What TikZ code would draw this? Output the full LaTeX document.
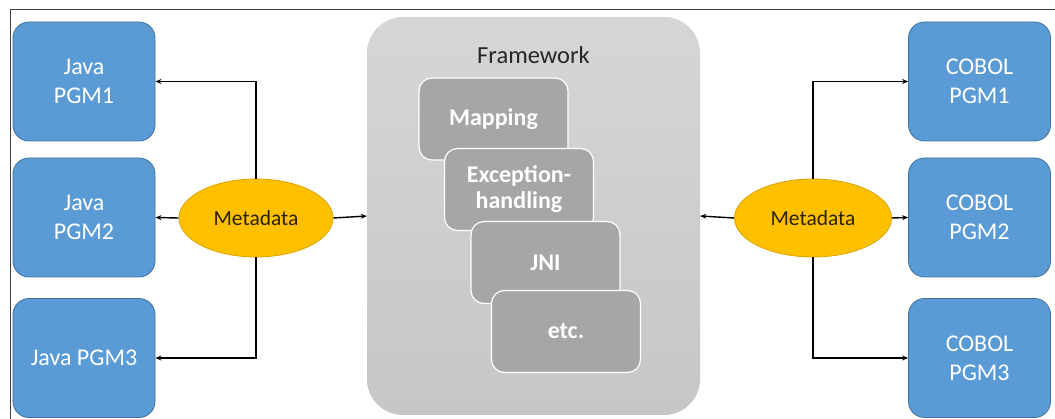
\documentclass[tikz,border=0pt]{standalone}
\usepackage{fontspec}
\setmainfont{Carlito}
\usetikzlibrary{arrows.meta,shapes.geometric}
\definecolor{pgmblue}{HTML}{5B9BD5}
\definecolor{pgmborder}{HTML}{41719C}
\definecolor{metafill}{HTML}{FFC000}
\definecolor{metaborder}{HTML}{D9A300}
\definecolor{fwtop}{HTML}{D6D6D6}
\definecolor{fwbot}{HTML}{C6C6C6}
\definecolor{innerfill}{HTML}{A6A6A6}
\definecolor{metatext}{HTML}{2B2200}
\begin{document}
\begin{tikzpicture}[x=1pt,y=-1pt,
  pgm/.style={rectangle, rounded corners=16pt, fill=pgmblue, draw=pgmborder, line width=0.8pt,
    minimum width=142pt, minimum height=119pt, text=white, align=center,
    font=\fontsize{24}{29}\selectfont},
  meta/.style={ellipse, fill=metafill, draw=metaborder, line width=0.8pt, inner sep=0pt,
    text=metatext, font=\fontsize{21.5}{25}\selectfont},
  fwbox/.style={rectangle, rounded corners=36pt, top color=fwtop, bottom color=fwbot,
    draw=none, minimum width=333pt, minimum height=398pt},
  inner/.style={rectangle, rounded corners=13pt, fill=innerfill, draw=white, line width=1.2pt,
    minimum width=149pt, minimum height=82pt, text=white, align=center,
    font=\fontsize{24}{26}\selectfont\bfseries},
  arr/.style={-{Stealth[length=6pt,width=5pt]}, line width=1.4pt, black}
]
\useasboundingbox (0,0) rectangle (1055,419);
\draw[line width=1pt, black!75] (10,419) -- (10,10) -- (1055,10);

% left programs
\node[pgm] (j1) at (84,81.5) {Java\\PGM1};
\node[pgm] (j2) at (84,217.5) {Java\\PGM2};
\node[pgm] (j3) at (84,358) {Java PGM3};

% right programs
\node[pgm] (c1) at (979.5,81.5) {COBOL\\PGM1};
\node[pgm] (c2) at (979.5,217.5) {COBOL\\PGM2};
\node[pgm] (c3) at (979.5,358) {COBOL\\PGM3};

% framework
\node[fwbox] (fw) at (533.5,216) {};
\node[font=\fontsize{24.5}{28}\selectfont, text=black!85] (fwt) at (533.5,55) {Framework};
\node[inner] (map) at (493.5,119) {Mapping};
\node[inner] (exc) at (519,189.5) {Exception-\\handling};
\node[inner] (jni) at (545.5,262.5) {JNI};
\node[inner] (etc) at (566,331.5) {etc.};

% metadata
\node[meta, minimum width=154pt, minimum height=78pt] (ml) at (256,218) {Metadata};
\node[meta, minimum width=157pt, minimum height=78pt] (mr) at (813,218) {Metadata};

% connectors left
\draw[arr] (ml.north) |- (j1.east);
\draw[arr] (ml.west) -- (j2.east);
\draw[arr] (ml.south) |- (j3.east);
\draw[arr] (ml.east) -- (fw.west);

% connectors right
\draw[arr] (mr.north) |- (c1.west);
\draw[arr] (mr.east) -- (c2.west);
\draw[arr] (mr.south) |- (c3.west);
\draw[arr] (mr.west) -- (fw.east);
\end{tikzpicture}
\end{document}
